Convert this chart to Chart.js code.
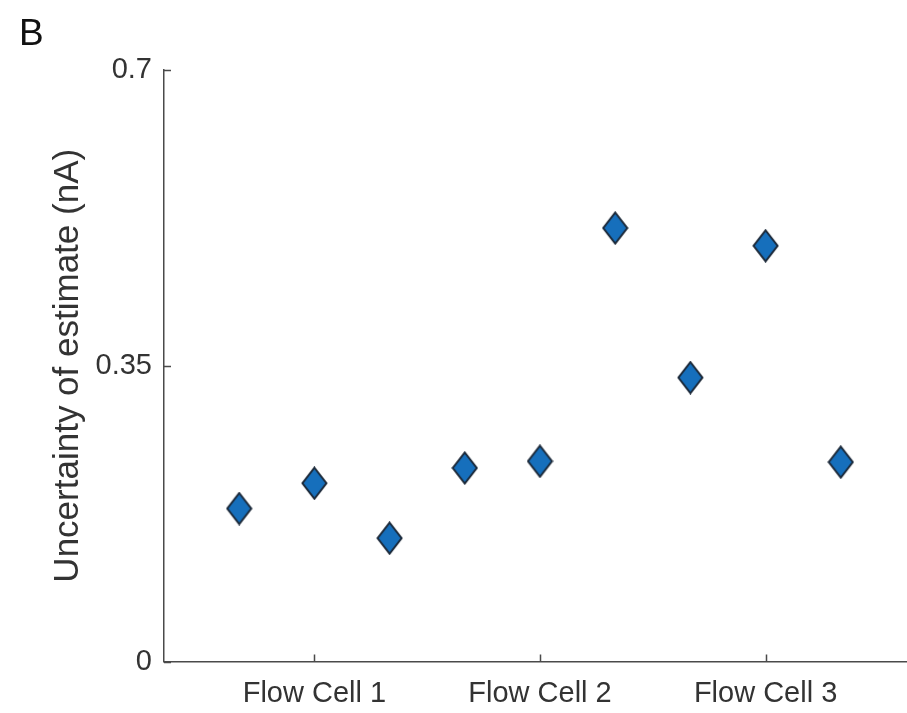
<!DOCTYPE html>
<html>
<head>
<meta charset="utf-8">
<script src="https://cdn.jsdelivr.net/npm/chart.js@4.4.1/dist/chart.umd.min.js"></script>
<style>
  html, body { margin: 0; padding: 0; background: #ffffff; overflow: hidden; }
  #wrap { position: relative; width: 930px; height: 713px; }
  canvas { display: block; }
</style>
</head>
<body>
<div id="wrap"><canvas id="chart" width="930" height="713"></canvas></div>
<script>
// Flow cell groups and where their labels sit on the x axis
const categories = ['Flow Cell 1', 'Flow Cell 2', 'Flow Cell 3'];
const categoryPositions = [2, 5, 8];

// Measurement positions (three per flow cell) and estimate uncertainty in nA
const measurementX = [1, 2, 3, 4, 5, 6, 7, 8, 9];
const uncertainty = [0.181, 0.211, 0.146, 0.229, 0.237, 0.513, 0.336, 0.492, 0.236];

// Y axis ticks
const yTicks = [0, 0.35, 0.7];
const yTickLabels = ['0', '0.35', '0.7'];

const AXIS_COLOR = '#4a4a4a';
const TEXT_COLOR = '#333333';
const FONT = '"Liberation Sans", Arial, Helvetica, sans-serif';

// Tall diamond marker drawn once to an offscreen canvas
function diamondMarker(w, h, fill, stroke, lw) {
  const c = document.createElement('canvas');
  c.width = w; c.height = h;
  const g = c.getContext('2d');
  const p = lw / 2 + 0.5;
  g.beginPath();
  g.moveTo(w / 2, p);
  g.lineTo(w - p, h / 2);
  g.lineTo(w / 2, h - p);
  g.lineTo(p, h / 2);
  g.closePath();
  g.fillStyle = fill;
  g.fill();
  g.lineWidth = lw;
  g.lineJoin = 'miter';
  g.strokeStyle = stroke;
  g.stroke();
  return c;
}
const marker = diamondMarker(27, 34, '#166fbc', '#1b2838', 2);

// Short tick marks pointing into the plot area, plus the panel letter
const inwardTicks = {
  id: 'inwardTicks',
  afterDraw(chart) {
    const { ctx, chartArea, scales } = chart;
    const len = 7;
    ctx.save();
    ctx.strokeStyle = AXIS_COLOR;
    ctx.lineWidth = 1.5;
    ctx.beginPath();
    scales.y.ticks.forEach(t => {
      const py = Math.round(scales.y.getPixelForValue(t.value)) + 0.5;
      ctx.moveTo(chartArea.left, py);
      ctx.lineTo(chartArea.left + len, py);
    });
    scales.x.ticks.forEach(t => {
      const px = Math.round(scales.x.getPixelForValue(t.value)) + 0.5;
      ctx.moveTo(px, chartArea.bottom);
      ctx.lineTo(px, chartArea.bottom - len);
    });
    ctx.stroke();

    ctx.fillStyle = '#111111';
    ctx.font = '37px ' + FONT;
    ctx.textAlign = 'left';
    ctx.textBaseline = 'alphabetic';
    ctx.fillText('B', 19, 45);
    ctx.restore();
  }
};

new Chart(document.getElementById('chart'), {
  type: 'scatter',
  data: {
    datasets: [{
      data: measurementX.map((x, i) => ({ x: x, y: uncertainty[i] })),
      pointStyle: marker,
      pointRadius: 13,
      pointHoverRadius: 13
    }]
  },
  options: {
    responsive: false,
    animation: false,
    events: [],
    layout: { padding: { left: 0, top: 70, right: 14, bottom: 0 } },
    plugins: {
      legend: { display: false },
      tooltip: { enabled: false }
    },
    scales: {
      x: {
        type: 'linear',
        min: 0,
        max: 10,
        afterBuildTicks(scale) {
          scale.ticks = categoryPositions.map(v => ({ value: v }));
        },
        afterFit(scale) { scale.height = 51.5; },
        grid: { display: false, drawTicks: false },
        border: { display: true, color: AXIS_COLOR, width: 1.5 },
        ticks: {
          padding: 15,
          color: TEXT_COLOR,
          font: { family: FONT, size: 29 },
          maxRotation: 0,
          autoSkip: false,
          callback: (v) => categories[categoryPositions.indexOf(v)]
        }
      },
      y: {
        type: 'linear',
        min: 0,
        max: 0.7,
        afterBuildTicks(scale) {
          scale.ticks = yTicks.map(v => ({ value: v }));
        },
        afterFit(scale) { scale.width = 164; },
        grid: { display: false, drawTicks: false },
        border: { display: true, color: AXIS_COLOR, width: 1.5 },
        title: {
          display: true,
          text: 'Uncertainty of estimate (nA)',
          color: TEXT_COLOR,
          font: { family: FONT, size: 35 },
          padding: { top: 47, bottom: 0 }
        },
        ticks: {
          padding: 12,
          color: TEXT_COLOR,
          font: { family: FONT, size: 29 },
          autoSkip: false,
          callback: (v) => yTickLabels[yTicks.indexOf(v)]
        }
      }
    }
  },
  plugins: [inwardTicks]
});
</script>
</body>
</html>
